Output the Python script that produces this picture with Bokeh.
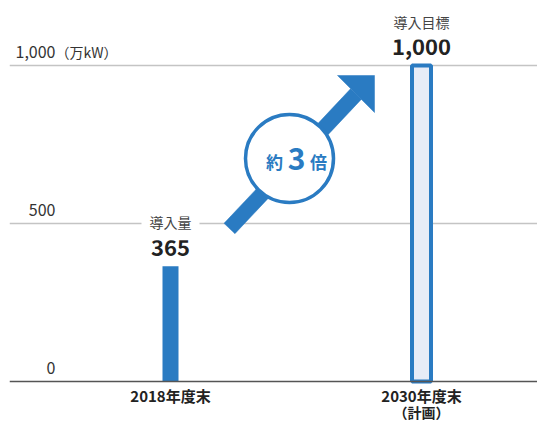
import numpy as np
from bokeh.plotting import figure
from bokeh.models import ColumnDataSource, Range1d, Span
from bokeh.core.properties import value
from bokeh.embed import file_html
from bokeh.resources import INLINE

# ---- data ----
categories = ["2018年度末", "2030年度末"]
sub_labels = ["", "（計画）"]
values = [365, 1000]
value_labels = ["365", "1,000"]
bar_captions = ["導入量", "導入目標"]
y_ticks = [0, 500, 1000]
y_tick_labels = ["0", "500", "1,000"]
unit_label = "（万kW）"
ratio_parts = ["約", "3", "倍"]

BLUE = "#2a7bc2"
FONT = value("Noto Sans CJK JP")

# pixel <-> data helpers (layout only)
PX_PER_X = 251.0
PX_PER_Y = 0.316
X0_PX, Y0_PX = 170.0, 381.0
def dx(px):
    return (px - X0_PX) / PX_PER_X
def dy(py):
    return (Y0_PX - py) / PX_PER_Y

W, H = 537, 421
LEFT = 9
p = figure(width=W, height=H, output_backend="svg", toolbar_location=None,
           x_range=Range1d(dx(LEFT), dx(W)), y_range=Range1d(dy(H), dy(0)),
           min_border_left=LEFT, min_border_right=0, min_border_top=0, min_border_bottom=0,
           x_axis_type=None, y_axis_type=None)
p.outline_line_color = None
p.background_fill_color = "white"
p.grid.visible = False

# gridlines and baseline
for t in y_ticks:
    if t == 0:
        s = Span(location=t, dimension="width", line_color="#555555", line_width=1.5)
    else:
        s = Span(location=t, dimension="width", line_color="#c4c4c4", line_width=1.3,
                 level="underlay")
    p.add_layout(s)

# ---- bars ----
xs = list(range(len(categories)))
src = ColumnDataSource(dict(
    x=xs, top=values,
    width=[16 / PX_PER_X, 19 / PX_PER_X],
    fill=[BLUE, "#e7ecf7"],
    lalpha=[0.0, 1.0],
))
p.vbar(x="x", top="top", bottom=0, width="width", source=src,
       fill_color="fill", line_color=BLUE, line_width=4, line_alpha="lalpha")

# value labels & captions above bars
lab = ColumnDataSource(dict(x=xs, y=values, v=value_labels, c=bar_captions))
p.text(x="x", y="y", text="v", source=lab, y_offset=-19,
       text_align="center", text_baseline="middle", text_font=FONT,
       text_font_size="22px", text_font_style="bold", text_color="#222222")
p.text(x="x", y="y", text="c", source=lab, y_offset=-44,
       text_align="center", text_baseline="middle", text_font=FONT,
       text_font_size="14px", text_color="#444444",
       background_fill_color="white", padding=8)

# ---- y tick labels ----
tk = ColumnDataSource(dict(x=[dx(55)] * len(y_ticks), y=y_ticks, t=y_tick_labels))
p.text(x="x", y="y", text="t", source=tk, y_offset=-14,
       text_align="right", text_baseline="middle", text_font=FONT,
       text_font_size="16px", text_color="#333333")
p.text(x=[dx(55)], y=[y_ticks[-1]], text=[unit_label], y_offset=-14,
       text_align="left", text_baseline="middle", text_font=FONT,
       text_font_size="14px", text_color="#333333")

# ---- category labels ----
cat = ColumnDataSource(dict(x=xs, y=[0, 0], c=categories, s=sub_labels))
p.text(x="x", y="y", text="c", source=cat, y_offset=14,
       text_align="center", text_baseline="middle", text_font=FONT,
       text_font_size="15px", text_font_style="bold", text_color="#222222")
p.text(x="x", y="y", text="s", source=cat, y_offset=30,
       text_align="center", text_baseline="middle", text_font=FONT,
       text_font_size="14px", text_font_style="bold", text_color="#222222")

# ---- growth arrow ----
tail = np.array([229.0, 228.0])
tip = np.array([374.0, 75.0])
c1 = np.array([337.0, 75.0])
c2 = np.array([374.0, 112.0])
bmid = (c1 + c2) / 2
d = bmid - tail
d = d / np.linalg.norm(d)
n = np.array([-d[1], d[0]])
hw = 7.5
shaft = [tail + n * hw, bmid + n * hw, bmid - n * hw, tail - n * hw]
p.patch(x=[dx(q[0]) for q in shaft], y=[dy(q[1]) for q in shaft],
        fill_color=BLUE, line_color=BLUE, line_width=0.5)
head = [c1, tip, c2]
p.patch(x=[dx(q[0]) for q in head], y=[dy(q[1]) for q in head],
        fill_color=BLUE, line_color=BLUE, line_width=0.5)

# circle badge
cx, cy = 289.0, 158.0
p.scatter(x=[dx(cx)], y=[dy(cy)], marker="circle", size=88,
          fill_color="white", line_color=BLUE, line_width=3.5)
p.text(x=[dx(274)], y=[dy(161)], text=[ratio_parts[0]], text_align="center",
       text_baseline="middle", text_font=FONT, text_font_size="17px",
       text_font_style="bold", text_color=BLUE)
p.text(x=[dx(296)], y=[dy(158)], text=[ratio_parts[1]], text_align="center",
       text_baseline="middle", text_font=FONT, text_font_size="30px",
       text_font_style="bold", text_color=BLUE)
p.text(x=[dx(318)], y=[dy(161)], text=[ratio_parts[2]], text_align="center",
       text_baseline="middle", text_font=FONT, text_font_size="17px",
       text_font_style="bold", text_color=BLUE)

open("out.html", "w").write(file_html(p, INLINE))
